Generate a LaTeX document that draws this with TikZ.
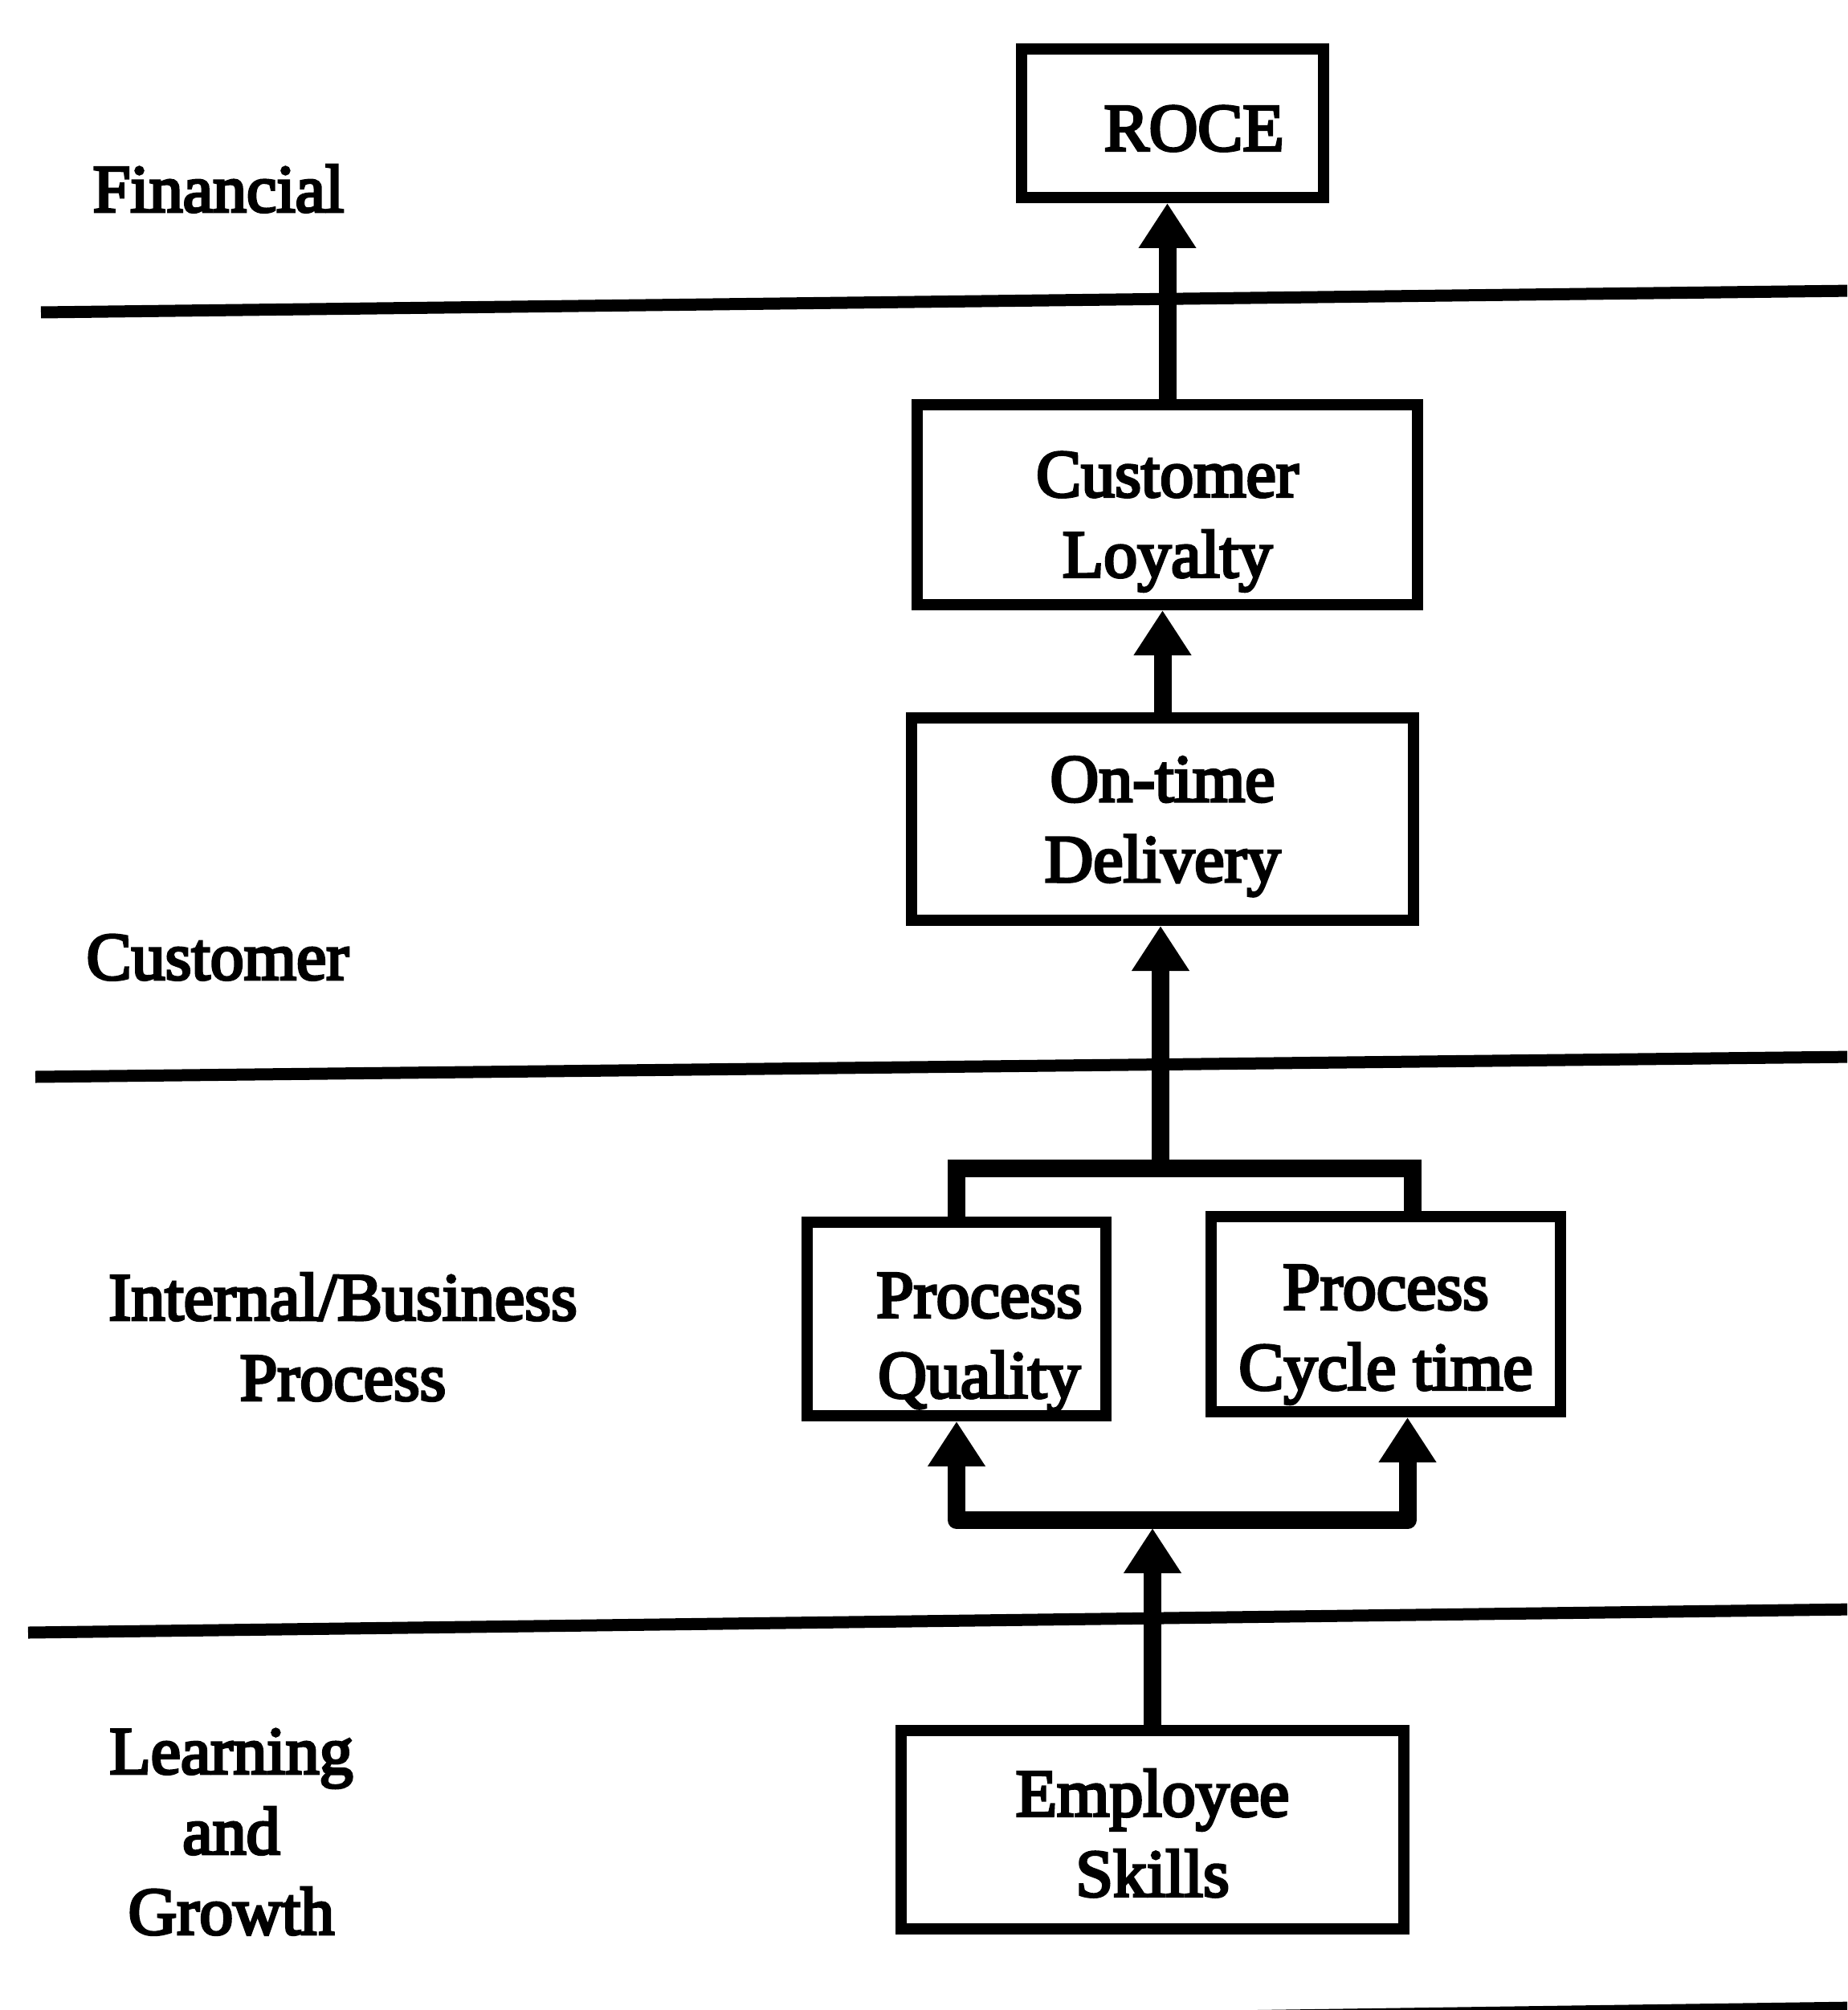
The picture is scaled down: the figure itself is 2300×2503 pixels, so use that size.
\documentclass[tikz,border=0pt]{standalone}
\usepackage{fontspec}
\newfontfamily\diagfont{Liberation Serif}[FakeBold=4]
\usetikzlibrary{arrows.meta,calc}
% fixed line height above the first line and depth below the last one,
% so every text block sits the same way inside its box;
% the optional argument adds extra room to nudge a block down or up
\newcommand\TopSpace[1][0pt]{\rule{0pt}{\dimexpr30pt+#1\relax}}
\newcommand\BotSpace[1][0pt]{\rule[-\dimexpr6pt+#1\relax]{0pt}{0pt}}

\begin{document}
\begin{tikzpicture}[x=0.3pt,y=-0.3pt,
  txt/.style={font=\diagfont\fontsize{25.2pt}{30pt}\selectfont, align=center, inner sep=0pt},
  kpi/.style={draw, rectangle, line width=4.2pt, txt},
  perspective/.style={txt, anchor=north},
  divider/.style={line width=4.5pt},
  conn/.style={line width=6.6pt, line join=round},
  lift/.style={conn, -{Triangle[length=16.8pt,width=20.4pt]}},
  twoway/.style={conn, {Triangle[length=16.8pt,width=20.4pt]}-{Triangle[length=16.8pt,width=20.4pt]}}]

\useasboundingbox (0,0) rectangle (2300,2503);
\clip (0,0) rectangle (2300,2503);

% perspective dividers
\draw[divider] (51,389) -- (2310,362);
\draw[divider] (44,1341) -- (2310,1316);
\draw[divider] (35,2033) -- (2310,2004);
\draw[divider] (35,2532) -- (2310,2500);

% perspective names
\node[perspective] (fin) at (272,163)  {\TopSpace Financial};
\node[perspective] (cus) at (271,1119) {\TopSpace Customer};
\node[perspective] (ibp) at (427,1543) {\TopSpace Internal/Business\\Process};
\node[perspective] (lg)  at (288,2108) {\TopSpace Learning\\and\\Growth};

% measures
\node[kpi, minimum width=112.8pt, minimum height=55.5pt] (roce) at (1460,153.5)
  {\TopSpace\hspace*{16pt}ROCE\BotSpace[3.6pt]};
\node[kpi, minimum width=186.9pt, minimum height=74.7pt] (loyal) at (1453.5,628.5)
  {\TopSpace Customer\\Loyalty\BotSpace};
\node[kpi, minimum width=187.5pt, minimum height=75.6pt] (deliv) at (1447.5,1020)
  {\TopSpace On-time\\Delivery\BotSpace[7.2pt]};
\node[kpi, minimum width=111.6pt, minimum height=72.3pt] (qual) at (1191,1642.5)
  {\TopSpace[4.8pt]\hspace*{17pt}Process\\\hspace*{17pt}Quality\BotSpace};
\node[kpi, minimum width=130.5pt, minimum height=72.9pt] (cycle) at (1725.5,1636.5)
  {\TopSpace[2.4pt]Process\\Cycle time\BotSpace};
\node[kpi, minimum width=187.8pt, minimum height=74.1pt] (skill) at (1435,2278.5)
  {\TopSpace Employee\\Skills\BotSpace[4.2pt]};

% branch points
\coordinate (upfork)  at (1445,1455);
\coordinate (lowfork) at (1440,1893);
\coordinate (cycTop) at ($(cycle.north)+(33,0)$);
\coordinate (cycBot) at ($(cycle.south)+(27,0)$);

% cause-and-effect links
\draw[lift] (loyal.north) -- (loyal.north |- roce.south);
\draw[lift] (deliv.north) -- (deliv.north |- loyal.south);
\draw[lift] (upfork) -- (upfork |- deliv.south);
\draw[conn, line join=miter] (qual.north) -- (qual.north |- upfork) -- (cycTop |- upfork) -- (cycTop);
\draw[twoway] (qual.south) -- (qual.south |- lowfork) -- (cycBot |- lowfork) -- (cycBot);
\draw[lift] (skill.north) -- ($(skill.north |- lowfork)+(0,10)$);
\end{tikzpicture}
\end{document}
